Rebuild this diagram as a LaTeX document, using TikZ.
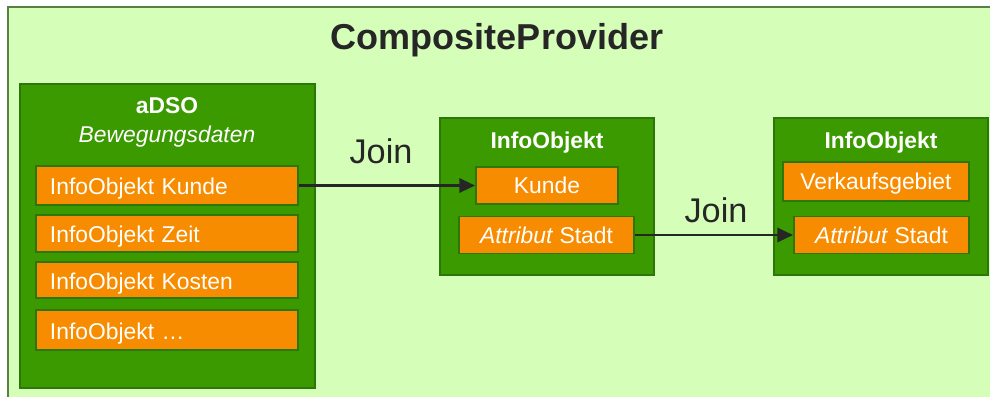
\documentclass[tikz,border=0pt]{standalone}
\usepackage{fontspec}
\setmainfont{Liberation Sans}
\usepackage{tikz}
\usetikzlibrary{arrows.meta}

\definecolor{paleground}{RGB}{213,255,184}
\definecolor{paleedge}{RGB}{88,128,66}
\definecolor{boxgreen}{RGB}{58,154,0}
\definecolor{boxedge}{RGB}{44,118,12}
\definecolor{fieldorange}{RGB}{247,140,0}
\definecolor{inkgrey}{RGB}{38,38,38}

\newcommand{\pxu}{0.02cm}

\tikzset{
  container/.style={draw=boxedge, line width=1.3pt, fill=boxgreen, inner sep=0pt},
  field/.style={draw=boxedge, line width=1pt, fill=fieldorange, text=white,
    font=\fontsize{13}{15}\selectfont, inner sep=0pt, text height=9.3pt, text depth=0pt},
  listfield/.style={field, minimum width=262*\pxu, text width=234*\pxu, align=left,
    text height=10.8pt},
  boxtitle/.style={text=white, font=\fontsize{13}{15}\selectfont\bfseries,
    text height=9.3pt, text depth=0pt},
  joinarrow/.style={-{Triangle[length=9pt,width=8pt]}, inkgrey, line width=1.7pt},
  joinlabel/.style={text=inkgrey, font=\fontsize{19.5}{22}\selectfont,
    text height=14pt, text depth=0pt}
}

\begin{document}
\begin{tikzpicture}[x=\pxu, y=-\pxu]
  \useasboundingbox (0,0) rectangle (990,396);
  \clip (0,0) rectangle (990,396);

  % outer frame
  \draw[paleedge, line width=1.3pt, fill=paleground] (8,7) rectangle (1010,420);
  \node[text=inkgrey, font=\fontsize{20.5}{24}\selectfont\bfseries,
    text height=14.7pt, text depth=0pt] (title) at (497,37) {CompositeProvider};

  % aDSO with its InfoObjects
  \node[container, minimum width=295*\pxu, minimum height=304*\pxu] (adso) at (167.5,236) {};
  \node[boxtitle] (adsoname) at (167,105.5) {aDSO};
  \node[text=white, font=\fontsize{13}{15}\selectfont\itshape,
    text height=9.3pt, text depth=0pt] (adsotype) at (167,134.5) {Bewegungsdaten};
  \node[listfield, minimum height=39*\pxu] (kunde) at (167,185.5) {InfoObjekt Kunde};
  \node[listfield, minimum height=37*\pxu] (zeit) at (167,233.5) {InfoObjekt Zeit};
  \node[listfield, minimum height=36*\pxu] (kosten) at (167,280) {InfoObjekt Kosten};
  \node[listfield, minimum height=40*\pxu] (weitere) at (167,330) {InfoObjekt \dots};

  % InfoObjekt Kunde
  \node[container, minimum width=214*\pxu, minimum height=157*\pxu] (kundeobj) at (547,196.5) {};
  \node[boxtitle] (kundetitle) at (547,140) {InfoObjekt};
  \node[field, minimum width=142*\pxu, minimum height=37*\pxu] (kundekey) at (547,185.5) {Kunde};
  \node[field, minimum width=175*\pxu, minimum height=37*\pxu] (kundestadt) at (546.5,235) {\textit{Attribut} Stadt};

  % InfoObjekt Verkaufsgebiet
  \node[container, minimum width=214*\pxu, minimum height=157*\pxu] (gebietobj) at (881,196.5) {};
  \node[boxtitle] (gebiettitle) at (881,140) {InfoObjekt};
  \node[field, minimum width=186*\pxu, minimum height=39*\pxu] (gebietkey) at (876,181.5) {Verkaufsgebiet};
  \node[field, minimum width=175*\pxu, minimum height=37*\pxu] (gebietstadt) at (881.5,235) {\textit{Attribut} Stadt};

  % joins
  \draw[joinarrow] (kunde.east) -- (kundekey.west);
  \node[joinlabel] (join1) at (381,151.5) {Join};
  \draw[joinarrow] (kundestadt.east) -- (gebietstadt.west);
  \node[joinlabel] (join2) at (716,210) {Join};
\end{tikzpicture}
\end{document}
